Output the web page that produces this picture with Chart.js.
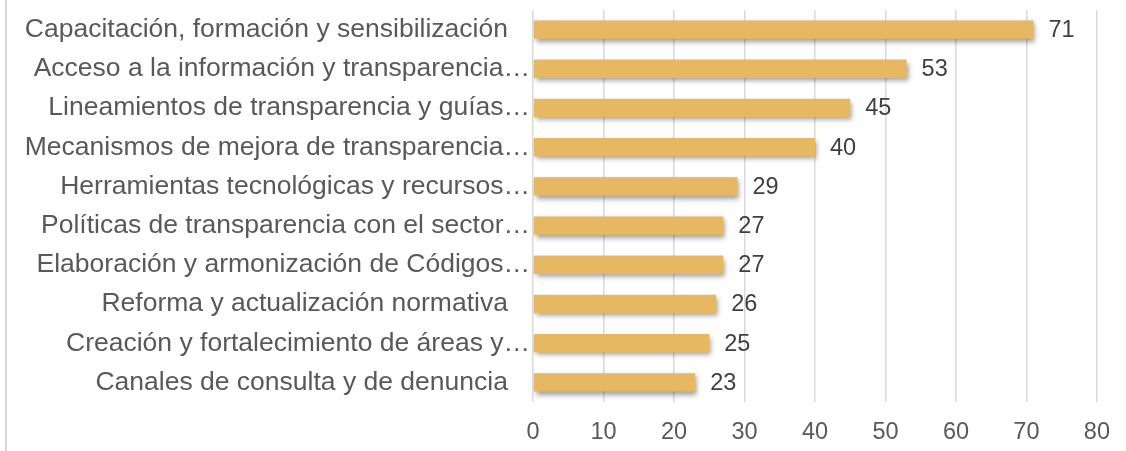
<!DOCTYPE html>
<html>
<head>
<meta charset="utf-8">
<script src="https://cdn.jsdelivr.net/npm/chart.js@4.4.0/dist/chart.umd.min.js"></script>
<style>
  html, body { margin: 0; padding: 0; background: #fff; }
  #wrap { position: relative; width: 1126px; height: 451px; }
  #edge { position: absolute; left: 5px; top: 0; width: 2px; height: 451px; background: #d9d9d9; }
</style>
</head>
<body>
<div id="wrap">
  <canvas id="barChart" width="1126" height="451"></canvas>
  <div id="edge"></div>
</div>
<script>
// Categories (as shown, truncated by the original chart)
const categories = [
  "Capacitación, formación y sensibilización   ",
  "Acceso a la información y transparencia…",
  "Lineamientos de transparencia y guías…",
  "Mecanismos de mejora de transparencia…",
  "Herramientas tecnológicas y recursos…",
  "Políticas de transparencia con el sector…",
  "Elaboración y armonización de Códigos…",
  "Reforma y actualización normativa   ",
  "Creación y fortalecimiento de áreas y…",
  "Canales de consulta y de denuncia   ",
];
const values = [71, 53, 45, 40, 29, 27, 27, 26, 25, 23];
const xTicks = [0, 10, 20, 30, 40, 50, 60, 70, 80];

const fontFamily = "'Liberation Sans', Arial, sans-serif";

// shadow under the bars
const barShadow = {
  id: "barShadow",
  beforeDatasetDraw(chart) {
    const c = chart.ctx;
    c.save();
    c.shadowColor = "rgba(0, 0, 0, 0.38)";
    c.shadowBlur = 5;
    c.shadowOffsetX = 2;
    c.shadowOffsetY = 3;
  },
  afterDatasetDraw(chart) {
    chart.ctx.restore();
  },
};

// value labels at the end of each bar
const valueLabels = {
  id: "valueLabels",
  afterDatasetsDraw(chart) {
    const c = chart.ctx;
    const meta = chart.getDatasetMeta(0);
    c.save();
    c.font = "23.5px " + fontFamily;
    c.fillStyle = "#404040";
    c.textAlign = "left";
    c.textBaseline = "middle";
    meta.data.forEach((bar, i) => {
      c.fillText(String(values[i]), bar.x + 15, bar.y + 1);
    });
    c.restore();
  },
};

const ctx = document.getElementById("barChart").getContext("2d");
const barChart = new Chart(ctx, {
  type: "bar",
  data: {
    labels: categories,
    datasets: [
      {
        data: values,
        backgroundColor: "#E6B862",
        borderWidth: 0,
        barPercentage: 0.47,
        categoryPercentage: 1,
      },
    ],
  },
  options: {
    indexAxis: "y",
    responsive: false,
    animation: false,
    devicePixelRatio: 1,
    layout: { padding: { top: 10, right: 29, left: 0, bottom: 0 } },
    scales: {
      x: {
        min: 0,
        max: 80,
        afterBuildTicks: (scale) => {
          scale.ticks = xTicks.map((v) => ({ value: v }));
        },
        afterFit: (scale) => {
          scale.height = 49;
        },
        grid: { color: "#d9d9d9", lineWidth: 1.5, drawTicks: false },
        border: { display: false },
        ticks: {
          color: "#595959",
          font: { size: 23.5, family: fontFamily },
          padding: 16,
          maxRotation: 0,
        },
      },
      y: {
        afterFit: (scale) => {
          scale.width = 533;
          scale.paddingTop = 0;
          scale.paddingBottom = 0;
        },
        grid: { display: false },
        border: { display: false },
        ticks: {
          color: "#595959",
          font: { size: 26.5, family: fontFamily },
          padding: -5,
          autoSkip: false,
        },
      },
    },
    plugins: {
      legend: { display: false },
      tooltip: { enabled: false },
    },
  },
  plugins: [barShadow, valueLabels],
});
</script>
</body>
</html>
